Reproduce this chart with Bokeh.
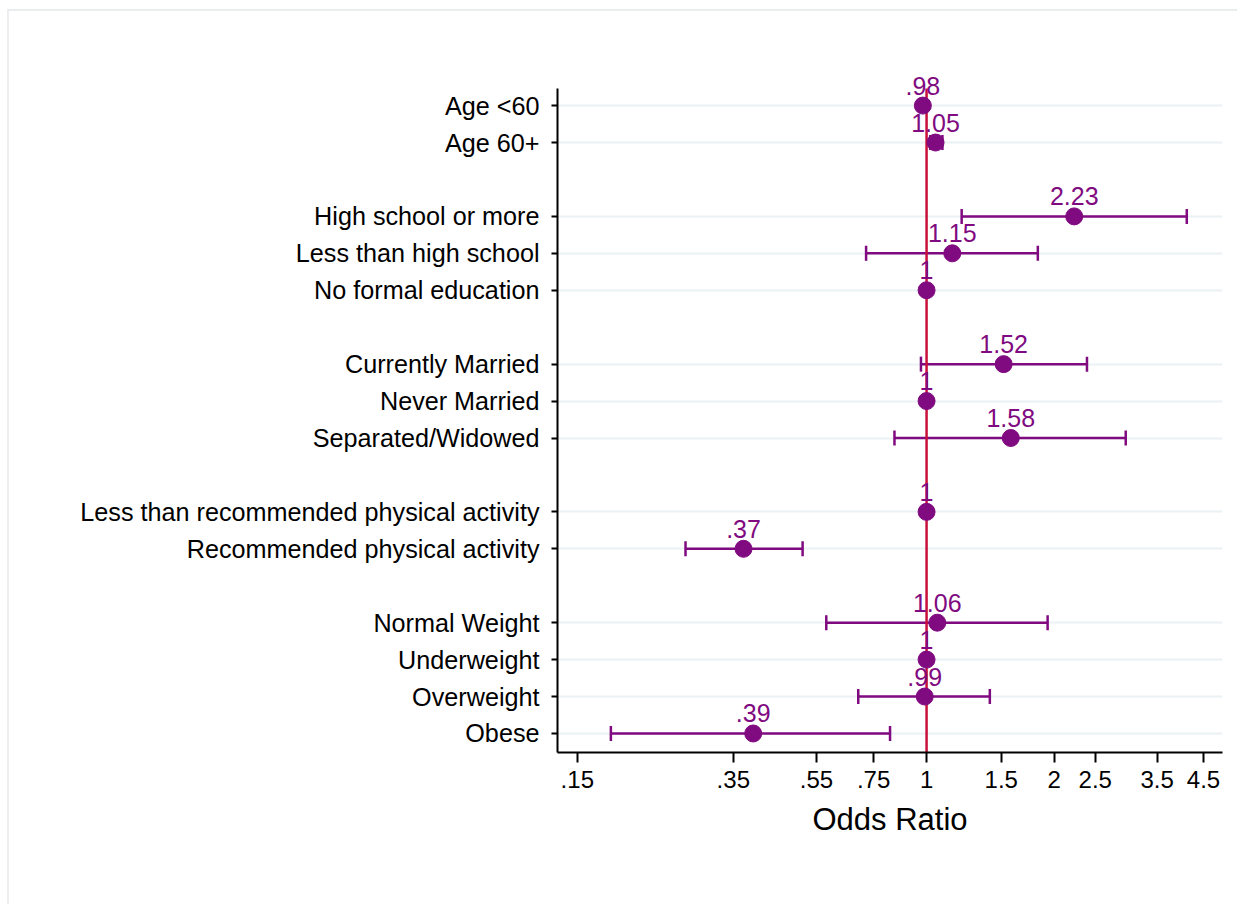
from bokeh.plotting import figure
from bokeh.models import (ColumnDataSource, Range1d, FixedTicker, Whisker, TeeHead,
                          LabelSet)
from bokeh.core.properties import value
from bokeh.embed import file_html
from bokeh.resources import INLINE

groups = [
    ["Age <60", "Age 60+"],
    ["High school or more", "Less than high school", "No formal education"],
    ["Currently Married", "Never Married", "Separated/Widowed"],
    ["Less than recommended physical activity", "Recommended physical activity"],
    ["Normal Weight", "Underweight", "Overweight", "Obese"],
]
odds = [0.98, 1.05, 2.23, 1.15, 1.0, 1.52, 1.0, 1.58, 1.0, 0.37, 1.06, 1.0, 0.99, 0.39]
lower = [0.965, 1.02, 1.21, 0.72, 1.0, 0.97, 1.0, 0.84, 1.0, 0.27, 0.58, 1.0, 0.69, 0.18]
upper = [0.995, 1.09, 4.11, 1.83, 1.0, 2.39, 1.0, 2.95, 1.0, 0.51, 1.93, 1.0, 1.41, 0.82]
ref_value = 1.0
x_ticks = [0.15, 0.35, 0.55, 0.75, 1, 1.5, 2, 2.5, 3.5, 4.5]
x_tick_labels = [".15", ".35", ".55", ".75", "1", "1.5", "2", "2.5", "3.5", "4.5"]

# build row positions with a blank row between groups
labels, ypos = [], []
pos = 0
for gi, g in enumerate(groups):
    if gi > 0:
        pos += 1
    for lab in g:
        labels.append(lab)
        ypos.append(pos)
        pos += 1

def fmt(v):
    s = ("%.2f" % v).rstrip("0").rstrip(".")
    if s.startswith("0."):
        s = s[1:]
    return s

src = ColumnDataSource(dict(y=ypos, x=odds, lo=lower, hi=upper,
                            txt=[fmt(v) for v in odds]))

PURPLE = "#800a80"
RED = "#c8103a"
FONT = "Liberation Sans"

y_top = -0.46            # top of the plotted region
y_bot = ypos[-1] + 0.515  # bottom of the plotted region

p = figure(width=1230, height=895, x_axis_type="log", output_backend="svg",
           toolbar_location=None, min_border_left=548, min_border_right=17,
           min_border_top=59, min_border_bottom=154,
           x_range=Range1d(0.1347, 4.99),
           y_range=Range1d(y_bot, y_top - 0.49))
p.styles = {"border-top": "2px solid #e8eeee", "border-left": "2px solid #eceff0",
            "margin-top": "9px", "margin-left": "7px"}
p.outline_line_color = None
p.background_fill_color = "white"
p.border_fill_color = "white"

# grid
p.xgrid.visible = False
p.ygrid.ticker = FixedTicker(ticks=ypos)
p.ygrid.grid_line_color = "#eaf2f3"
p.ygrid.grid_line_width = 2

# axes
p.yaxis.bounds = (y_top, y_bot)
p.yaxis.ticker = FixedTicker(ticks=ypos)
p.yaxis.major_label_overrides = {y: l for y, l in zip(ypos, labels)}
p.yaxis.minor_tick_line_color = None
p.yaxis.major_tick_out = 6
p.yaxis.major_tick_in = 0
p.yaxis.major_tick_line_width = 2
p.yaxis.axis_line_width = 2
p.yaxis.major_label_standoff = 12
p.yaxis.major_label_text_font = FONT
p.yaxis.major_label_text_font_size = "25.2px"
p.yaxis.major_label_text_color = "black"

p.xaxis.ticker = FixedTicker(ticks=x_ticks)
p.xaxis.major_label_overrides = {t: l for t, l in zip(x_ticks, x_tick_labels)}
p.xaxis.minor_tick_line_color = None
p.xaxis.major_tick_out = 10
p.xaxis.major_tick_in = 0
p.xaxis.major_tick_line_width = 2
p.xaxis.axis_line_width = 2
p.xaxis.major_label_standoff = 8
p.xaxis.major_label_text_font = FONT
p.xaxis.major_label_text_font_size = "24px"
p.xaxis.major_label_text_color = "black"
p.xaxis.axis_label = "Odds Ratio"
p.xaxis.axis_label_text_font = FONT
p.xaxis.axis_label_text_font_style = "normal"
p.xaxis.axis_label_text_font_size = "31px"
p.xaxis.axis_label_text_color = "black"
p.xaxis.axis_label_standoff = 11

# reference line at OR = 1
p.segment(x0=[ref_value], y0=[y_top], x1=[ref_value], y1=[y_bot],
          line_color=RED, line_width=2.5)

# CIs
w = Whisker(source=src, base="y", lower="lo", upper="hi", dimension="width",
            line_color=PURPLE, line_width=2.5,
            lower_head=TeeHead(size=15, line_color=PURPLE, line_width=2.5),
            upper_head=TeeHead(size=15, line_color=PURPLE, line_width=2.5))
p.add_layout(w)

p.scatter("x", "y", source=src, size=17, color=PURPLE, line_color=PURPLE)
p.add_layout(LabelSet(x="x", y="y", text="txt", source=src, text_align="center",
                      text_baseline="bottom", y_offset=11, text_color=PURPLE,
                      text_font=value(FONT), text_font_size="25px"))

open("out.html", "w").write(file_html(p, INLINE))
